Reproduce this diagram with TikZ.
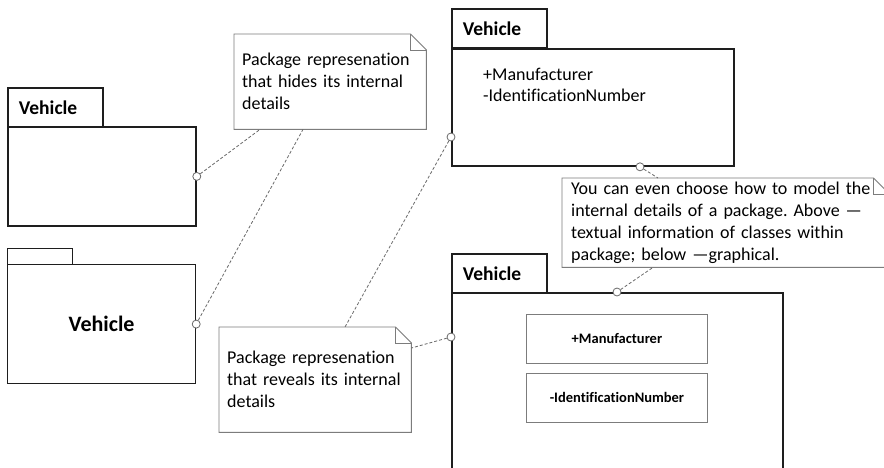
\documentclass[tikz,border=0pt]{standalone}
\usepackage{fontspec}
\setmainfont{Carlito}[Ligatures={NoCommon}]
\frenchspacing
\usetikzlibrary{calc}

\definecolor{pkgline}{HTML}{1E1E1E}
\definecolor{noteline}{HTML}{7C7C7C}
\definecolor{linkline}{HTML}{6A6A6A}

\tikzset{
  pkgbody/.style={draw=pkgline, line width=1.8pt, fill=white, anchor=north west,
    inner sep=0pt},
  pkgtab/.style={pkgbody, font=\bfseries\fontsize{19.5}{22}\selectfont,
    align=left, inner xsep=11pt, inner ysep=0pt},
  notebox/.style={anchor=north west, align=left, inner xsep=8pt, inner ysep=0pt,
    font=\fontsize{18}{22}\selectfont},
  noteedge/.style={draw=noteline, line width=0.9pt},
  classbox/.style={draw=noteline, line width=0.9pt, fill=white, anchor=north west,
    minimum width=181pt, minimum height=49pt, inner sep=0pt,
    font=\bfseries\fontsize{14.5}{17}\selectfont},
  port/.style={circle, draw=linkline, line width=0.8pt, fill=white,
    minimum size=8pt, inner sep=0pt},
  link/.style={draw=linkline, line width=0.8pt, dash pattern=on 3pt off 2pt},
}

% note outline with a folded top-right corner
\newcommand\dogear[1]{%
  \draw[noteedge] (#1.south west) -- (#1.north west)
    -- ($(#1.north east)+(-16,0)$) -- ($(#1.north east)+(0,16)$)
    -- (#1.south east) -- cycle;
  \draw[noteedge] ($(#1.north east)+(-16,0)$) -- ++(0,16)
    -- ($(#1.north east)+(0,16)$);
}

\begin{document}
\begin{tikzpicture}[x=1pt, y=-1pt]
\clip (0,0) rectangle (884,467);
\fill[white] (0,0) rectangle (884,467);

% ---- package, collapsed, name in tab
\node[pkgtab, text width=73pt, minimum height=39pt] (tabA) at (7,87) {Vehicle};
\node[pkgbody, minimum width=188pt, minimum height=99pt] (bodyA) at (7,126) {};

% ---- package, collapsed, name in body
\node[pkgbody, minimum width=65pt, minimum height=16pt, line width=1.2pt] (tabB) at (7,248) {};
\node[pkgbody, minimum width=188pt, minimum height=119pt, line width=1.2pt,
  font=\bfseries\fontsize{22}{26}\selectfont] (bodyB) at (7,264) {Vehicle};

% ---- package with textual members
\node[pkgtab, text width=73pt, minimum height=39pt] (tabC) at (451,8) {Vehicle};
\node[pkgbody, minimum width=282pt, minimum height=117pt] (bodyC) at (451,48) {};
\node[anchor=north west, align=left, inner sep=0pt,
  font=\fontsize{18}{21}\selectfont] (membersC) at (483,68)
  {+Manufacturer\\-IdentificationNumber};

% ---- package with graphical members
\node[pkgtab, text width=73pt, minimum height=39pt] (tabD) at (451,253) {Vehicle};
\node[pkgbody, minimum width=331pt, minimum height=190pt] (bodyD) at (451,292) {};
\node[classbox] (manuf) at (526,314) {+Manufacturer};
\node[classbox] (ident) at (526,373) {-IdentificationNumber};

% ---- notes
\node[notebox, text width=176pt, minimum height=95pt] (noteA) at (234,34)
  {Package represenation\\that hides its internal\\details};
\node[notebox, text width=176pt, minimum height=105pt] (noteB) at (219,327)
  {Package represenation\\that reveals its internal\\details};
\node[notebox, text width=309pt, minimum height=89pt, inner xsep=9pt] (noteC) at (562,178)
  {You can even choose how to model the\\internal details of a package. Above —\\textual information of classes within\\package; below —graphical.};
\dogear{noteA}
\dogear{noteB}
\dogear{noteC}

% attachment points
\node[port] (pA) at (bodyA.east) {};
\node[port] (pB) at (bodyB.east) {};
\node[port] (pC1) at ($(bodyC.north west)+(0,89)$) {};
\node[port] (pC2) at ($(bodyC.south west)+(189,0)$) {};
\node[port] (pD1) at ($(bodyD.north west)+(0,45)$) {};
\node[port] (pD2) at ($(bodyD.north west)+(166,0)$) {};

% ends of the connectors on the notes
\coordinate (nA1) at ($(noteA.south west)+(26,0)$);
\coordinate (nA2) at ($(noteA.south west)+(69,0)$);
\coordinate (nB1) at ($(noteB.north west)+(126,0)$);
\coordinate (nB2) at ($(noteB.north east)+(0,21)$);
\coordinate (nC1) at ($(noteC.north west)+(96,0)$);
\coordinate (nC2) at ($(noteC.south west)+(91,0)$);

% connectors
\draw[link] (pA) -- (nA1);
\draw[link] (pB) -- (nA2);
\draw[link] (pC1) -- (nB1);
\draw[link] (pD1) -- (nB2);
\draw[link] (pC2) -- (nC1);
\draw[link] (pD2) -- (nC2);
\end{tikzpicture}
\end{document}
